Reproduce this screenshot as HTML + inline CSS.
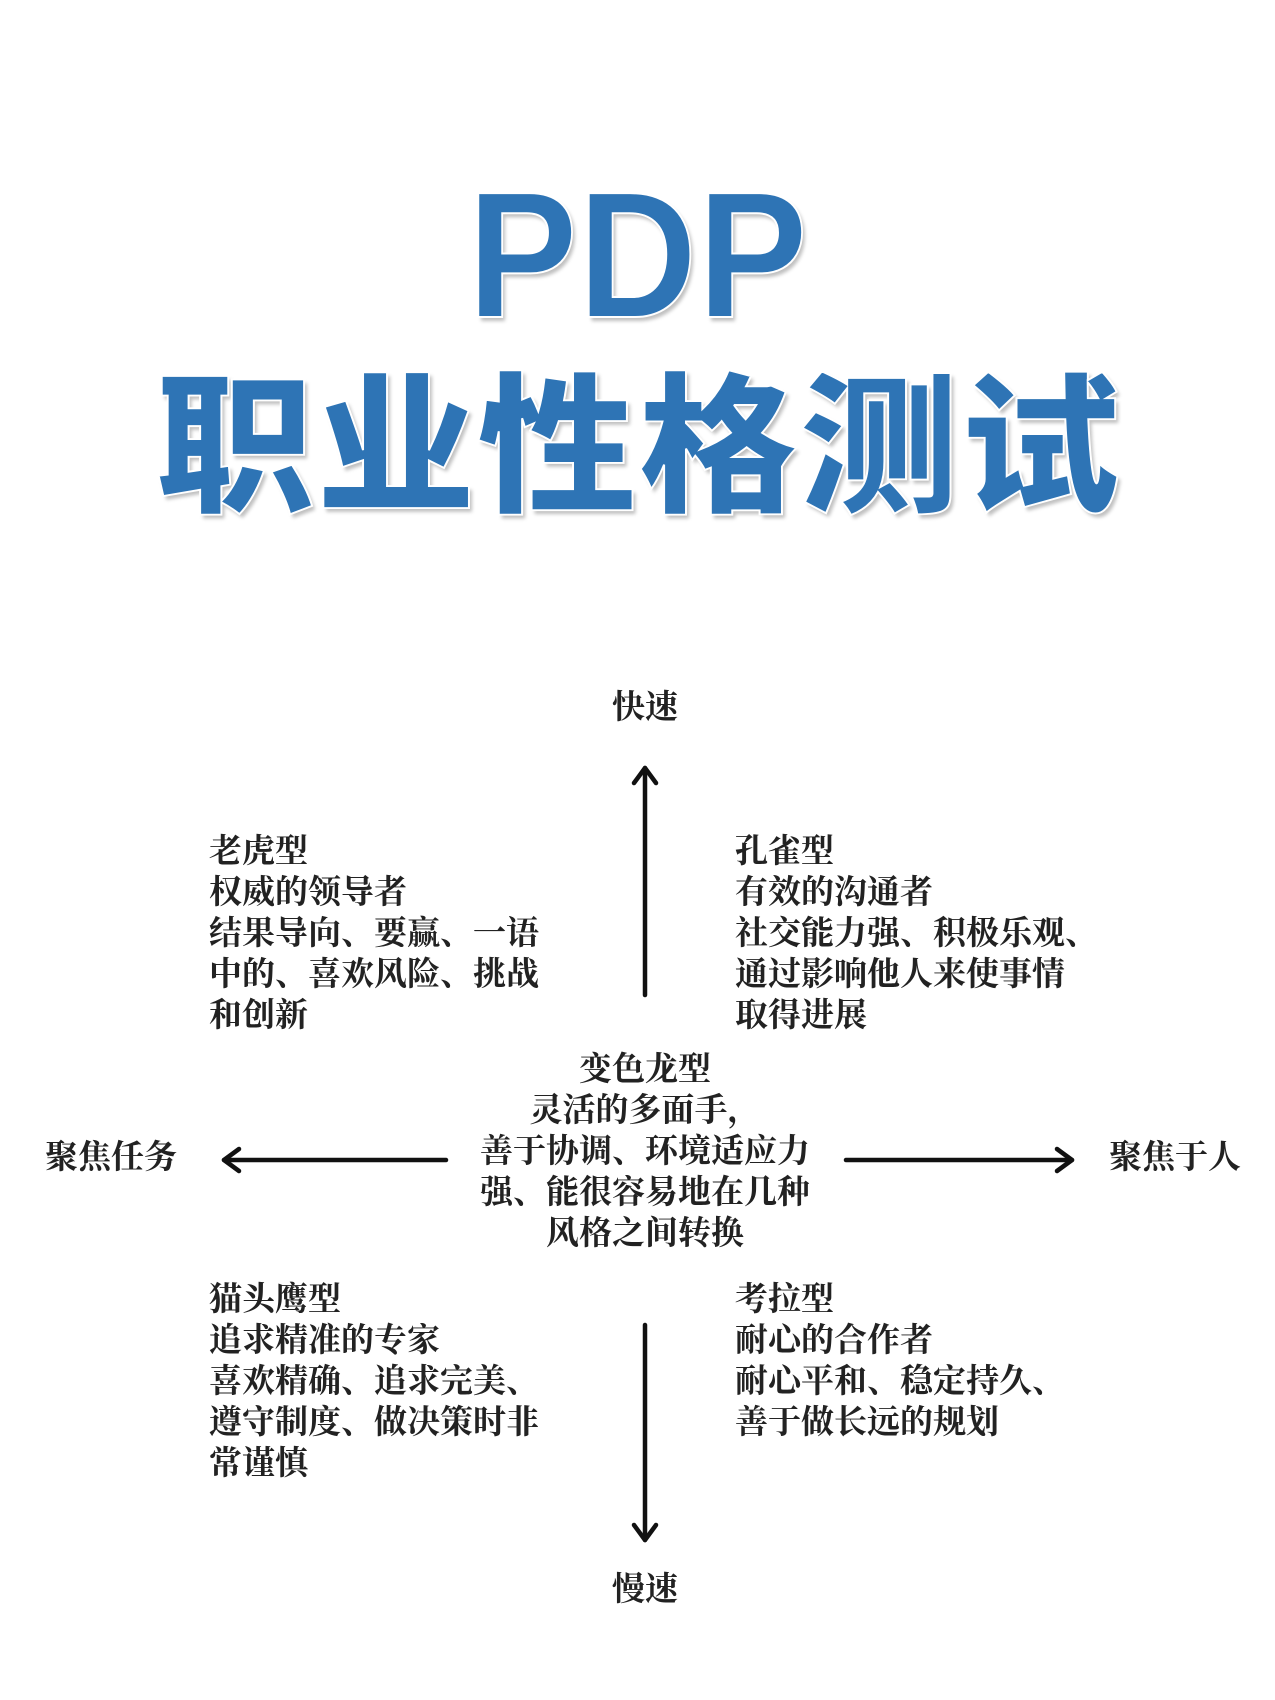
<!DOCTYPE html>
<html><head><meta charset="utf-8"><style>
html,body{margin:0;padding:0;background:#fff;}
body{width:1275px;height:1700px;position:relative;overflow:hidden;}
.t{position:absolute;font-family:"Liberation Serif","Noto Serif CJK SC",serif;font-weight:bold;font-size:33px;line-height:41px;color:#222;white-space:nowrap;}
.c{text-align:center;}
#pdp{position:absolute;left:0;width:1275px;top:166px;text-align:center;font-family:"Liberation Sans",sans-serif;font-weight:bold;font-size:180px;line-height:180px;color:#2e74b5;-webkit-text-stroke:2px #fff;text-shadow:3px 4px 4px rgba(0,0,0,0.25);transform:scaleX(0.92);}
#zh{position:absolute;left:155px;top:354px;font-family:"Noto Sans CJK SC",sans-serif;font-weight:900;font-size:160px;line-height:170px;color:#2e74b5;letter-spacing:1px;-webkit-text-stroke:2px #fff;text-shadow:3px 4px 4px rgba(0,0,0,0.25);white-space:nowrap;transform:scaleY(0.95);transform-origin:top left;}
</style></head><body>
<div id="pdp">PDP</div>
<div id="zh">职业性格测试</div>
<svg width="1275" height="1700" style="position:absolute;left:0;top:0">
<g stroke="#111" stroke-width="4.5" fill="none" stroke-linecap="round" stroke-linejoin="round">
<line x1="645" y1="768" x2="645" y2="995"/>
<polyline points="634,783 645,768 656,783"/>
<line x1="645" y1="1325" x2="645" y2="1540"/>
<polyline points="634,1525 645,1540 656,1525"/>
<line x1="224" y1="1160" x2="446" y2="1160"/>
<polyline points="239,1149 224,1160 239,1171"/>
<line x1="846" y1="1160" x2="1072" y2="1160"/>
<polyline points="1057,1149 1072,1160 1057,1171"/>
</g></svg>
<div class="t c" style="left:540px;width:210px;top:688px">快速</div>
<div class="t c" style="left:540px;width:210px;top:1570px">慢速</div>
<div class="t" style="left:45px;top:1138px">聚焦任务</div>
<div class="t" style="left:1109px;top:1138px">聚焦于人</div>
<div class="t" style="left:209px;top:832px">老虎型<br>权威的领导者<br>结果导向、要赢、一语<br>中的、喜欢风险、挑战<br>和创新</div>
<div class="t" style="left:735px;top:832px">孔雀型<br>有效的沟通者<br>社交能力强、积极乐观、<br>通过影响他人来使事情<br>取得进展</div>
<div class="t c" style="left:435px;width:420px;top:1050px">变色龙型<br>灵活的多面手，<br>善于协调、环境适应力<br>强、能很容易地在几种<br>风格之间转换</div>
<div class="t" style="left:209px;top:1280px">猫头鹰型<br>追求精准的专家<br>喜欢精确、追求完美、<br>遵守制度、做决策时非<br>常谨慎</div>
<div class="t" style="left:735px;top:1280px">考拉型<br>耐心的合作者<br>耐心平和、稳定持久、<br>善于做长远的规划</div>
</body></html>
